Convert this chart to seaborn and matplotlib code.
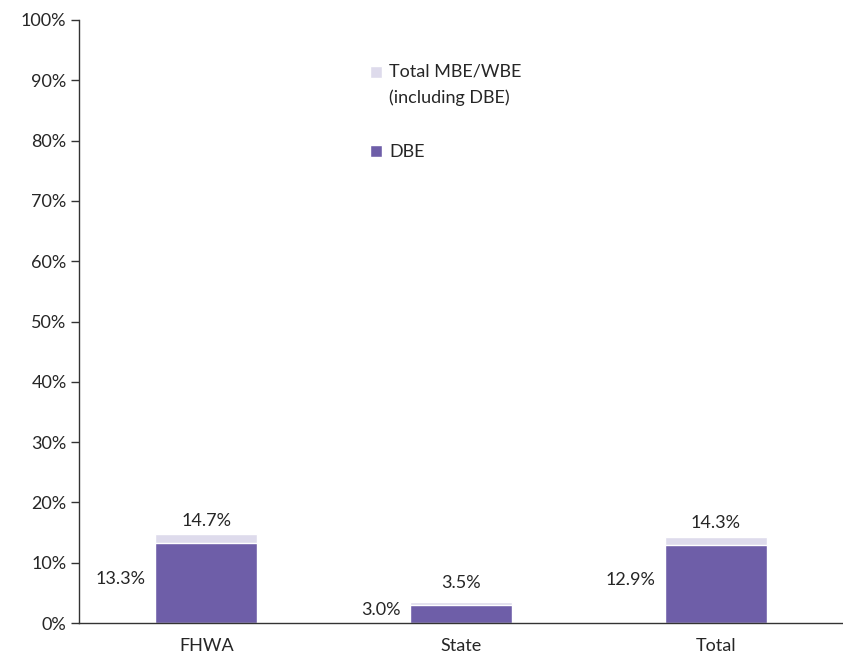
import matplotlib
matplotlib.use("Agg")
import matplotlib.pyplot as plt
import seaborn as sns
import pandas as pd

categories = ["FHWA", "State", "Total"]
dbe_share = [13.3, 3.0, 12.9]
mbe_wbe_share = [14.7, 3.5, 14.3]
y_ticks = [0, 10, 20, 30, 40, 50, 60, 70, 80, 90, 100]

sns.set_theme(style="white")
plt.rcParams["font.family"] = ["Lato", "DejaVu Sans"]

text_color = "#262626"
dbe_color = "#6E5EA8"
total_color = "#DEDBEC"
fs = 13

df = pd.DataFrame({"category": categories, "dbe": dbe_share, "total": mbe_wbe_share})

fig = plt.figure(figsize=(8.43, 6.58), dpi=100)
ax = fig.add_axes([79 / 843, 35 / 658, (843 - 79) / 843, 603 / 658])

sns.barplot(data=df, x="category", y="total", color=total_color, width=0.4,
            saturation=1, ax=ax, label="Total MBE/WBE\n(including DBE)")
sns.barplot(data=df, x="category", y="dbe", color=dbe_color, width=0.4,
            saturation=1, ax=ax, label="DBE")

ax.set_xlim(-0.5, (843 - 79) / 259.75 - 0.5)
ax.set_ylim(0, 100)
ax.set_yticks(y_ticks)
ax.set_yticklabels([f"{t}%" for t in y_ticks], fontsize=fs, color=text_color)
ax.set_xticks(range(len(categories)))
ax.set_xticklabels(categories, fontsize=fs, color=text_color)
ax.set_xlabel("")
ax.set_ylabel("")

# Category separators drawn as minor ticks on the x axis
ax.set_xticks([-0.5, 0.5, 1.5, 2.5], minor=True)
ax.tick_params(axis="x", which="major", length=0, pad=11)
ax.tick_params(axis="x", which="minor", length=6, width=1, color="#333333", direction="out")
ax.tick_params(axis="y", length=6, width=1, color="#333333", direction="out", left=True, pad=3)

for side in ["top", "right"]:
    ax.spines[side].set_visible(False)
for side in ["left", "bottom"]:
    ax.spines[side].set_color("#333333")
    ax.spines[side].set_linewidth(1)

# Value labels: total above the bar, DBE beside the bar
total_offsets = [4, 8, 4]
for i, (d, t) in enumerate(zip(dbe_share, mbe_wbe_share)):
    ax.annotate(f"{t:.1f}%", xy=(i, t), xytext=(0, total_offsets[i]),
                textcoords="offset points", ha="center", va="bottom",
                fontsize=fs, color=text_color)
    ax.annotate(f"{d:.1f}%", xy=(i - 0.2, d / 2), xytext=(-7, 3),
                textcoords="offset points", ha="right", va="center",
                fontsize=fs, color=text_color)

leg = ax.legend(loc="upper left", bbox_to_anchor=(0.36, 0.955), frameon=False,
                fontsize=fs, handlelength=0.65, handleheight=0.65,
                handletextpad=0.4, labelspacing=2.1)
for txt in leg.get_texts():
    txt.set_color(text_color)
    txt.set_linespacing(1.75)
# Align the two-line entry's swatch with its first line
first = leg.legend_handles[0]
first.set_y(first.get_y() + 9.5)

fig.savefig("out.png", dpi=100)
